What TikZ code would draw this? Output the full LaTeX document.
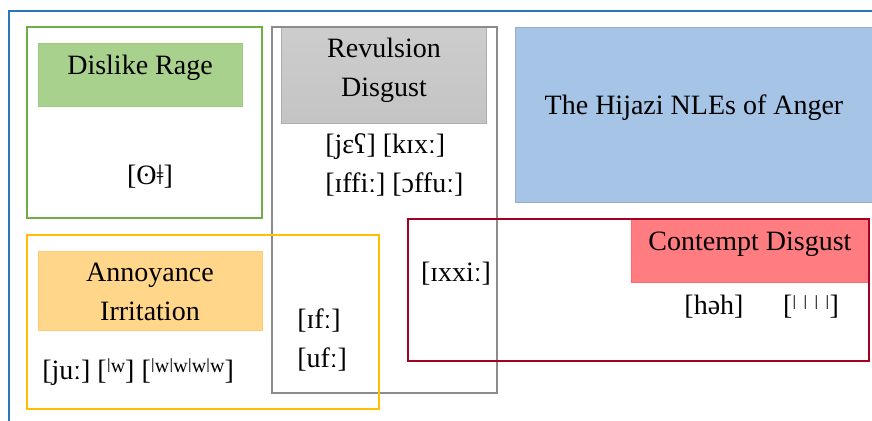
\documentclass[tikz,border=0pt]{standalone}
\usepackage{fontspec}
\setmainfont{Liberation Serif}

\definecolor{frameblue}{HTML}{2E75B6}
\definecolor{rageline}{HTML}{70AD47}
\definecolor{ragefill}{HTML}{A9D18E}
\definecolor{revline}{HTML}{8C8C8C}
\definecolor{revfill}{HTML}{C4C4C4}
\definecolor{hijfill}{HTML}{A6C4E6}
\definecolor{annline}{HTML}{FFC000}
\definecolor{annfill}{HTML}{FFD68A}
\definecolor{conline}{HTML}{A50021}
\definecolor{confill}{HTML}{FF7C80}

% small raised click bar, with or without labialisation
\newcommand{\clickbar}{\raisebox{0.45ex}{\fontsize{15}{15}\selectfont ǀ}}
\newcommand{\clickw}{\raisebox{0.55ex}{\fontsize{15}{15}\selectfont ǀw}}

\begin{document}
\begin{tikzpicture}[x=0.75pt,y=-0.75pt,
    every node/.style={font=\fontsize{21}{29}\selectfont, inner sep=0pt},
    group/.style={line width=2pt},
    label/.style={align=center}]
    \useasboundingbox (0,0) rectangle (872,421);
    \clip (0,0) rectangle (872,421);

    % outer frame
    \draw[frameblue, line width=2pt] (9,430) -- (9,11) -- (880,11);

    % filled title boxes
    \draw[ragefill!80!rageline, fill=ragefill] (38,43) rectangle (242,106);
    \draw[revline!70, top color=revfill!85, bottom color=revfill] (281,27) rectangle (486,123);
    \draw[hijfill!90!black, fill=hijfill] (515,27) rectangle (880,202);
    \draw[annfill!85!orange, fill=annfill] (38,251) rectangle (262,330);
    \draw[confill!85!red, fill=confill] (631,219) rectangle (869,282);

    % group outlines
    \draw[group, rageline] (27,27) rectangle (262,218);
    \draw[group, revline] (272,27) rectangle (497,393);
    \draw[group, annline] (27,235) rectangle (379,409);
    \draw[group, conline] (408,219) rectangle (869,361);

    % titles
    \node[label] (dislike) at (140,68) {Dislike Rage};
    \node[label] (revulsion) at (384,70) {Revulsion\\Disgust};
    \node[label] (hijazi) at (694,108) {The Hijazi NLEs of Anger};
    \node[label] (annoyance) at (150,292) {Annoyance\\Irritation};
    \node[label] (contempt) at (750,244) {Contempt Disgust};

    % sounds
    \node (rage) at (150,177) {[ʘǂ]};
    \node[anchor=west, align=left] (revsnd) at (325,165) {[jɛʕ] [kɪxː]\\{}[ɪffiː] [ɔffuː]};
    \node[anchor=west] (annsnd) at (42,372) {[juː] [\clickw] [\clickw\clickw\clickw\clickw]};
    \node[anchor=west, align=left] (sharedsnd) at (297,340) {[ɪfː]\\{}[ufː]};
    \node (xxi) at (456,274) {[ɪxxiː]};
    \node (heh) at (714,307) {[həh]};
    \node (clicks) at (811,307) {[\clickbar\ \clickbar\ \clickbar\ \clickbar]};
\end{tikzpicture}
\end{document}
